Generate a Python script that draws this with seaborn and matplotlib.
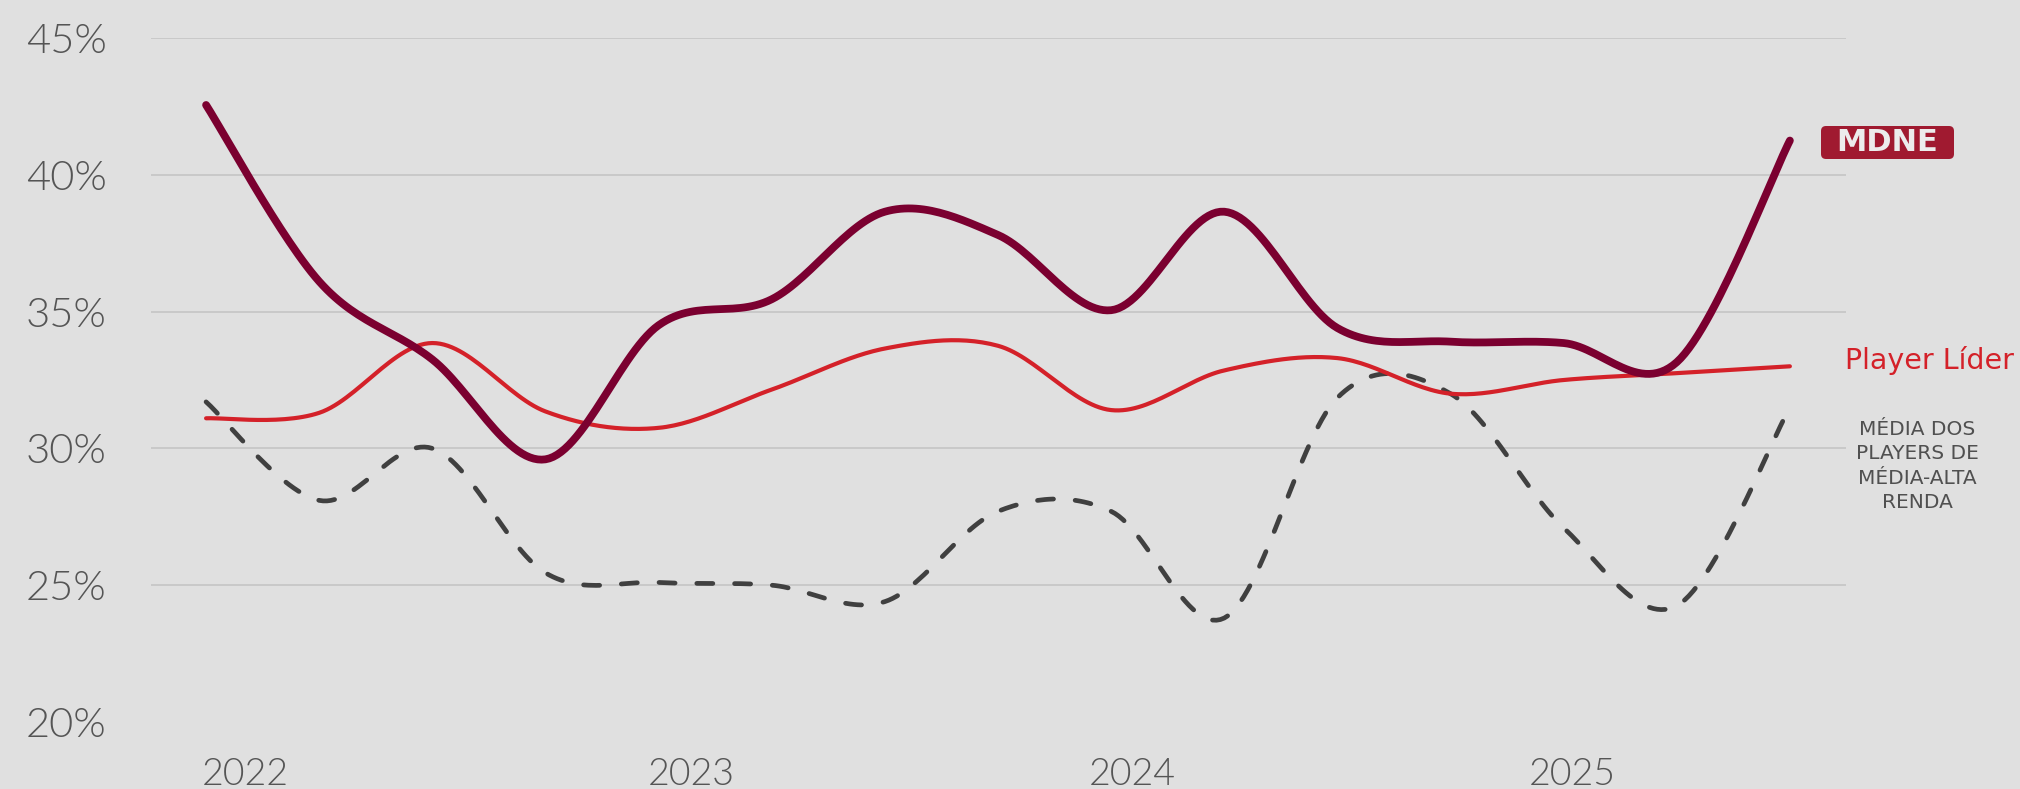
import numpy as np
import pandas as pd
import matplotlib
matplotlib.use("Agg")
import matplotlib.pyplot as plt
import seaborn as sns
from matplotlib.patches import FancyBboxPatch
from matplotlib.transforms import IdentityTransform

# quarterly points
quarters = list(range(15))
mdne = [42.55, 36.1, 33.25, 29.6, 34.5, 35.45, 38.65, 37.8, 35.05, 38.65,
        34.4, 33.9, 33.85, 33.15, 41.25]
player_lider = [31.1, 31.3, 33.85, 31.35, 30.75, 32.15, 33.65, 33.75, 31.4,
                32.85, 33.3, 32.0, 32.5, 32.75, 33.0]
media_players = [31.7, 28.1, 30.0, 25.45, 25.1, 25.0, 24.4, 27.7, 27.7, 23.8,
                 31.85, 32.0, 27.1, 24.25, 31.5]

year_labels = ["2022", "2023", "2024", "2025"]
year_ticks = [0.35, 4.29, 8.19, 12.08]
y_ticks = [20, 25, 30, 35, 40, 45]

BG = "#e0e0e0"
TXT = "#555555"


def smooth(x, y, n=30):
    # Excel-like smoothed line: bezier through the points, ends repeated
    pts = np.column_stack([x, y]).astype(float)
    pts = np.vstack([pts[0], pts, pts[-1]])
    t = np.linspace(0, 1, n)[:, None]
    out = []
    for i in range(1, len(pts) - 2):
        p0, p1, p2, p3 = pts[i - 1], pts[i], pts[i + 1], pts[i + 2]
        c1 = p1 + (p2 - p0) / 6
        c2 = p2 - (p3 - p1) / 6
        seg = (1 - t) ** 3 * p1 + 3 * (1 - t) ** 2 * t * c1 + 3 * (1 - t) * t ** 2 * c2 + t ** 3 * p2
        out.append(seg if i == 1 else seg[1:])
    out = np.vstack(out)
    return pd.DataFrame({"x": out[:, 0], "y": out[:, 1]})


sns.set_style("white")
plt.rcParams["font.family"] = ["Lato", "DejaVu Sans"]

fig = plt.figure(figsize=(20.2, 7.89), dpi=100, facecolor=BG)
ax = fig.add_axes([0.0748, 0.0849, 0.839, 0.867])
ax.set_facecolor(BG)

sns.lineplot(data=smooth(quarters, media_players), x="x", y="y", sort=False,
             estimator=None, color="#404040", linewidth=3.4, ax=ax)
dash_line = ax.lines[-1]
dash_line.set_dashes([3.4, 4.6])
dash_line.set_dash_capstyle("round")

sns.lineplot(data=smooth(quarters, player_lider), x="x", y="y", sort=False,
             estimator=None, color="#d42129", linewidth=3.0, ax=ax,
             solid_capstyle="round")
sns.lineplot(data=smooth(quarters, mdne), x="x", y="y", sort=False,
             estimator=None, color="#7b0030", linewidth=5.6, ax=ax,
             solid_capstyle="round")

ax.set_xlim(-0.486, 14.495)
ax.set_ylim(20, 45)
ax.set_yticks(y_ticks)
ax.set_yticklabels([f"{v}%" for v in y_ticks])
ax.set_xticks(year_ticks)
ax.set_xticklabels(year_labels)
ax.tick_params(axis="y", length=0, pad=32, labelsize=30, labelcolor=TXT)
ax.tick_params(axis="x", length=0, pad=26, labelsize=27, labelcolor=TXT)
for lab in ax.get_xticklabels() + ax.get_yticklabels():
    lab.set_fontweight(300)
ax.set_xlabel("")
ax.set_ylabel("")

ax.grid(axis="y", color="#c3c3c3", linewidth=1.1)
ax.grid(axis="x", visible=False)
ax.set_axisbelow(True)
ax.get_ygridlines()[0].set_visible(False)
sns.despine(ax=ax, left=True, bottom=True)

# series labels on the right
fig.text(1845 / 2020, 1 - 361 / 789, "Player Líder", ha="left", va="center",
         fontsize=20.5, color="#d42129", family=["DejaVu Sans"])
fig.text(1917 / 2020, 1 - 466 / 789, "MÉDIA DOS\nPLAYERS DE\nMÉDIA-ALTA\nRENDA",
         ha="center", va="center", fontsize=14.5, linespacing=1.35,
         color="#505050", family=["DejaVu Sans"])

# MDNE logo box
logo = FancyBboxPatch((1821, 789 - 159), 133, 33,
                      boxstyle="round,pad=0,rounding_size=5",
                      fc="#a01a30", ec="none", transform=IdentityTransform())
fig.patches.append(logo)
fig.text(1887.5 / 2020, 646.5 / 789, "MDNE", ha="center", va="center",
         fontsize=22, fontweight="bold", color="#ececec",
         family=["DejaVu Sans"])

fig.savefig("out.png", dpi=100, facecolor=BG)
